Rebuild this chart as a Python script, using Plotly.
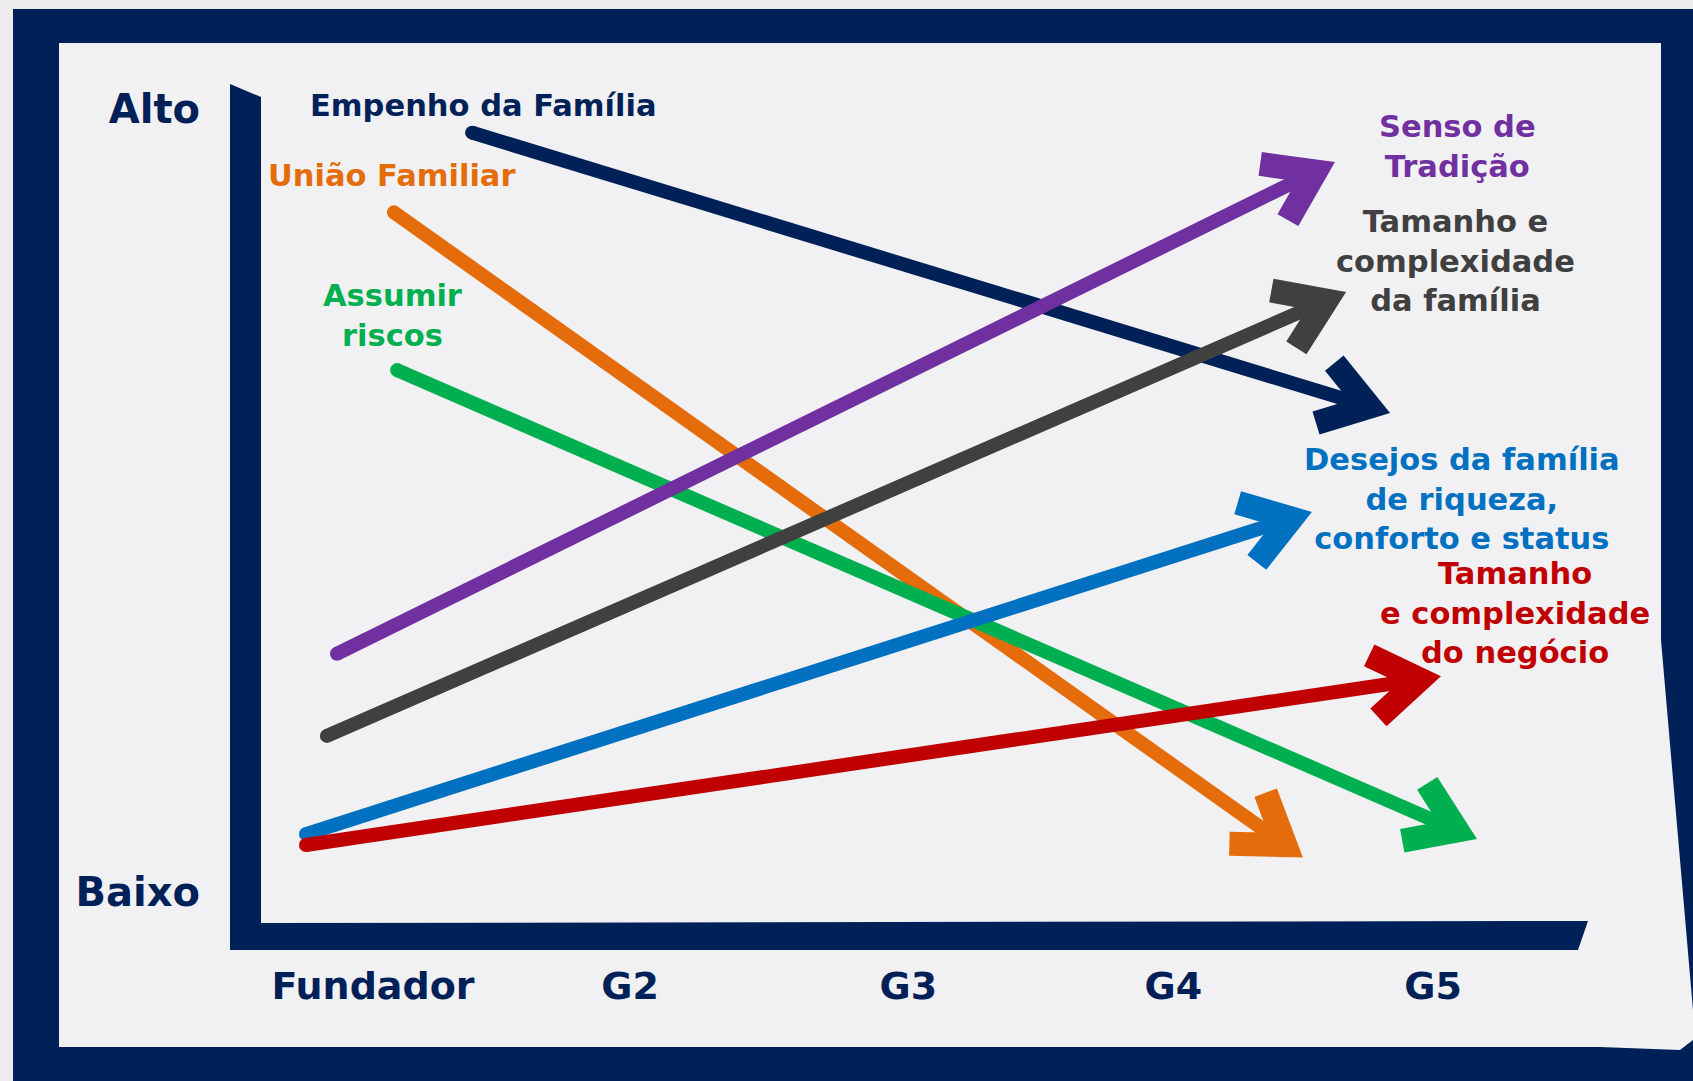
import math
import plotly.graph_objects as go

# ---------------- data ----------------
generations = ["Fundador", "G2", "G3", "G4", "G5"]
gen_pos = [0, 0.97, 2.02, 3.02, 4.0]
level_labels = ["Baixo", "Alto"]
level_pos = [0.37, 9.70]

series_names = [
    "Empenho da Família",
    "União Familiar",
    "Assumir riscos",
    "Senso de Tradição",
    "Tamanho e complexidade da família",
    "Desejos da família de riqueza, conforto e status",
    "Tamanho e complexidade do negócio",
]
# start / end (arrow tip) of each trend, x in generations, y in level (0 = Baixo, 10 = Alto)
start_x = [0.374, 0.079, 0.091, -0.136, -0.174, -0.253, -0.253]
start_y = [9.42, 8.47, 6.59, 3.21, 2.23, 1.06, 0.93]
end_x = [3.838, 3.509, 4.166, 3.630, 3.672, 3.543, 4.030]
end_y = [6.08, 0.78, 1.00, 9.07, 7.52, 4.90, 2.94]

label_text = [
    "Empenho da Família",
    "União Familiar",
    "Assumir<br>riscos",
    "Senso de<br>Tradição",
    "Tamanho e<br>complexidade<br>da família",
    "Desejos da família<br>de riqueza,<br>conforto e status",
    "Tamanho<br>e complexidade<br>do negócio",
]

# ---------------- styles / layout ----------------
NAVY = "#002157"
colors = ["#002157", "#e46c0a", "#00b050", "#7030a0", "#404040", "#0070c0", "#c00000"]
label_px = [(483, 105), (392, 176), (392, 316), (1457, 146), (1455, 261), (1462, 499), (1515, 613)]

W, H = 1693, 1081
X0, XU = 373.0, 265.0   # pixel of Fundador, pixels per generation
Y0, YU = 923.0, 83.9    # pixel of level 0, pixels per level unit
FONT = "DejaVu Sans"


def to_px(x, y):
    return X0 + XU * x, Y0 - YU * y


def from_px(px, py):
    return (px - X0) / XU, (Y0 - py) / YU


def px2p(px, py):
    return px / W, 1 - py / H


fig = go.Figure()

SHAFT_W = 14
HEAD_W = 24
WING = 56
ANG = math.radians(34)

for i, name in enumerate(series_names):
    sx, sy = to_px(start_x[i], start_y[i])
    tx, ty = to_px(end_x[i], end_y[i])
    dx, dy = tx - sx, ty - sy
    L = math.hypot(dx, dy)
    ux, uy = dx / L, dy / L
    # centre-line tip (outer corner of the mitred chevron is near the data tip)
    back = (HEAD_W / 2) / math.sin(ANG)
    cx, cy = tx - back * ux, ty - back * uy
    wings = []
    for s in (1, -1):
        ca, sa = math.cos(s * ANG), math.sin(s * ANG)
        bx, by = -ux, -uy
        rx = bx * ca - by * sa
        ry = bx * sa + by * ca
        wings.append((cx + WING * rx, cy + WING * ry))
    c_d = from_px(cx, cy)
    w1 = from_px(*wings[0])
    w2 = from_px(*wings[1])
    fig.add_trace(go.Scatter(
        x=[start_x[i], c_d[0]], y=[start_y[i], c_d[1]], mode="lines",
        line=dict(color=colors[i], width=SHAFT_W), hoverinfo="skip", showlegend=False))
    fig.add_trace(go.Scatter(
        x=[w1[0], c_d[0], w2[0]], y=[w1[1], c_d[1], w2[1]], mode="lines",
        line=dict(color=colors[i], width=HEAD_W), hoverinfo="skip", showlegend=False))
    fig.add_trace(go.Scatter(
        x=[start_x[i]], y=[start_y[i]], mode="markers",
        marker=dict(color=colors[i], size=SHAFT_W, line=dict(width=0)),
        hoverinfo="skip", showlegend=False))
    lx, ly = px2p(*label_px[i])
    fig.add_annotation(
        x=lx, y=ly, xref="paper", yref="paper", text=label_text[i], showarrow=False,
        xanchor="center", yanchor="middle", align="center",
        font=dict(family=FONT, size=30.5, color=colors[i], weight="bold"))


def path(points):
    s = ""
    for k, (px, py) in enumerate(points):
        x, y = px2p(px, py)
        s += ("M" if k == 0 else "L") + f"{x:.5f},{y:.5f} "
    return s + "Z"


shapes = [
    # navy frame
    dict(type="path", path=path([(13, 9), (W, 9), (W, H), (13, H)]),
         fillcolor=NAVY, line=dict(width=0), layer="below", xref="paper", yref="paper"),
    # paper
    dict(type="path", path=path([(59, 43), (1661, 43), (1661, 640), (1693, 1010), (1693, 1040),
                                 (1680, 1050), (1600, 1047), (59, 1047)]),
         fillcolor="#f1f1f3", line=dict(width=0), layer="below", xref="paper", yref="paper"),
    # hand-drawn axes
    dict(type="path", path=path([(230, 84), (261, 97), (261, 923), (1588, 921), (1578, 950), (230, 950)]),
         fillcolor=NAVY, line=dict(width=0), layer="below", xref="paper", yref="paper"),
]

xr = [(0 - X0) / XU, (W - X0) / XU]
yr = [(Y0 - H) / YU, Y0 / YU]

fig.update_layout(
    width=W, height=H, margin=dict(l=0, r=0, t=0, b=0),
    paper_bgcolor="#ececee", plot_bgcolor="rgba(0,0,0,0)",
    shapes=shapes, showlegend=False,
    xaxis=dict(range=xr, domain=[0, 1], anchor="free", position=1 - 923 / H,
               tickmode="array", tickvals=gen_pos, ticktext=generations,
               ticks="outside", ticklen=29, tickcolor="rgba(0,0,0,0)",
               showgrid=False, zeroline=False, showline=False, fixedrange=True,
               tickfont=dict(family=FONT, size=38, color=NAVY, weight="bold")),
    yaxis=dict(range=yr, domain=[0, 1], anchor="free", position=230 / W,
               tickmode="array", tickvals=level_pos, ticktext=level_labels,
               ticks="outside", ticklen=22, tickcolor="rgba(0,0,0,0)",
               showgrid=False, zeroline=False, showline=False, fixedrange=True,
               tickfont=dict(family=FONT, size=40, color=NAVY, weight="bold")),
)

fig.write_html("out.html", config={"displayModeBar": False},
               post_script="document.body.style.margin='0';document.body.style.overflow='hidden';")
